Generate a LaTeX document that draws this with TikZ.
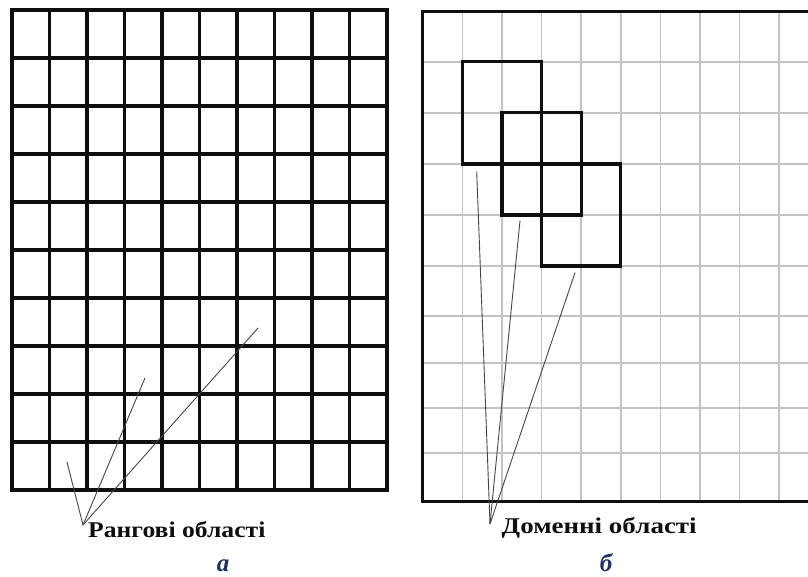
\documentclass[tikz,border=0pt]{standalone}
\usepackage{fontspec}
\setmainfont{Liberation Serif}
\usepackage{tikz}
\definecolor{gridc}{RGB}{15,15,15}
\definecolor{softc}{RGB}{195,195,195}
\definecolor{leadc}{RGB}{70,70,70}
\definecolor{capc}{RGB}{35,45,95}

\begin{document}
\begin{tikzpicture}[x=1pt, y=-1pt, line cap=rect]
  \tikzset{
    bold/.style={gridc, line width=3.2pt},
    soft/.style={softc, line width=1.6pt},
    lead/.style={leadc, line width=0.9pt, line cap=round},
    tag/.style={font=\fontsize{22.5}{24}\selectfont\bfseries, text=gridc, inner sep=0pt, anchor=base west},
    capt/.style={font=\fontsize{25}{27}\selectfont\bfseries\itshape, text=capc, inner sep=0pt, anchor=base}
  }
  \useasboundingbox (0,0) rectangle (808,576);
  \fill[white] (0,0) rectangle (808,576);

  % (a) rank grid, 10x10 thick cells
  \foreach \i in {0,...,10}{
    \draw[bold] ({12+37.5*\i},10) -- ({12+37.5*\i},490);
    \draw[bold] (12,{10+48*\i}) -- (387,{10+48*\i});
  }

  % (b) fine grid, runs past the right edge
  \begin{scope}
    \clip (0,0) rectangle (808,576);
    \foreach \x in {462.3,501.9,541.5,581.1,620.7,660.3,699.9,739.5,779.1}
      \draw[soft] (\x,11.7) -- (\x,501.7);
    \foreach \y in {61.7,112.7,164,215,266,316,363,408,453}
      \draw[soft] (422.7,\y) -- (820,\y);
    \draw[bold, line width=3.4pt] (820,11.7) -- (422.7,11.7) -- (422.7,501.7) -- (820,501.7);
  \end{scope}

  % overlapping domain blocks
  \draw[bold] (462.3,61.7) rectangle (541.5,164);
  \draw[bold] (501.9,112.7) rectangle (581.1,215);
  \draw[bold] (541.5,164) rectangle (620.7,266);

  % leader tips
  \coordinate (r1) at (67,462);
  \coordinate (r2) at (145,378);
  \coordinate (r3) at (258,328);
  \coordinate (d1) at (476.7,171.7);
  \coordinate (d2) at (520,220.7);
  \coordinate (d3) at (575,272.7);
  \coordinate (rfoc) at (83,525);
  \coordinate (dfoc) at (490,524);

  % labels
  \node[tag] (rlab) at (88,537) {\scalebox{1.14}[1]{Рангові області}};
  \node[tag] (dlab) at (501.5,533.5) {\scalebox{1.2}[1]{Доменні області}};
  \foreach \t in {r1,r2,r3} \draw[lead] (rfoc) -- (\t);
  \foreach \t in {d1,d2,d3} \draw[lead] (dfoc) -- (\t);

  \node[capt] (capa) at (223,571.5) {а};
  \node[capt] (capb) at (606,571.5) {б};
\end{tikzpicture}
\end{document}
